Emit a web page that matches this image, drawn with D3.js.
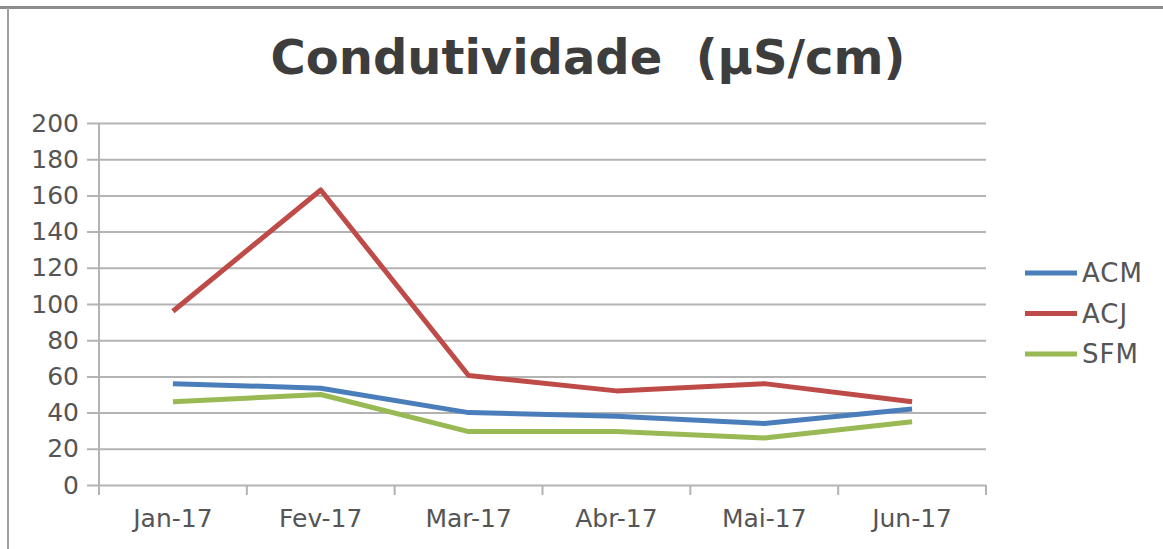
<!DOCTYPE html>
<html>
<head>
<meta charset="utf-8">
<script src="https://cdn.jsdelivr.net/npm/d3@7"></script>
<style>
  body { margin: 0; background: #fff; }
  svg { display: block; font-family: "DejaVu Sans", sans-serif; }
</style>
</head>
<body>
<svg id="chart" width="1163" height="549"></svg>
<script>
var months = ["Jan-17", "Fev-17", "Mar-17", "Abr-17", "Mai-17", "Jun-17"];
var seriesNames = ["ACM", "ACJ", "SFM"];
var acm = [56, 53.5, 40, 38, 34, 42];
var acj = [96, 163, 60.5, 52, 56, 46];
var sfm = [46, 50, 29.5, 29.5, 26, 35];
var yTicks = [0, 20, 40, 60, 80, 100, 120, 140, 160, 180, 200];
var colors = ["#4a7ebb", "#be4b48", "#98b954"];

var series = [acm, acj, sfm];
var textColor = "#555555";

var svg = d3.select("#chart");

// frame
svg.append("line").attr("x1", 0).attr("x2", 1163).attr("y1", 7.5).attr("y2", 7.5)
    .attr("stroke", "#8c8c8c").attr("stroke-width", 3);
svg.append("line").attr("x1", 8).attr("x2", 8).attr("y1", 8).attr("y2", 549)
    .attr("stroke", "#a0a0a0").attr("stroke-width", 2);

// title
svg.append("text")
    .attr("x", 588).attr("y", 74)
    .attr("text-anchor", "middle")
    .attr("font-size", 48).attr("font-weight", "bold")
    .attr("fill", "#3d3d3d")
    .style("white-space", "pre")
    .text("Condutividade  (µS/cm)");

var plotLeft = 99, plotRight = 986, plotTop = 123, plotBottom = 485;

var x = d3.scaleBand().domain(months).range([plotLeft, plotRight]).paddingInner(0).paddingOuter(0);
var y = d3.scaleLinear().domain([0, 200]).range([plotBottom, plotTop]);

// gridlines + y labels (axis placed at right edge, ticks run left)
var yAxis = svg.append("g")
    .attr("transform", "translate(" + plotRight + ",0)")
    .call(d3.axisLeft(y).tickValues(yTicks).tickSize(plotRight - 87).tickPadding(8));
yAxis.select(".domain").remove();
yAxis.selectAll(".tick line").attr("stroke", "#b3b3b3").attr("stroke-width", 2);
yAxis.selectAll(".tick text").attr("font-size", 25).attr("fill", textColor)
    .attr("font-family", "DejaVu Sans");

// y axis line
svg.append("line").attr("x1", plotLeft).attr("x2", plotLeft).attr("y1", plotTop).attr("y2", plotBottom + 10)
    .attr("stroke", "#b3b3b3").attr("stroke-width", 2);

// category boundary ticks
var bounds = months.map(function(m) { return x(m) + x.bandwidth(); });
svg.selectAll("line.cat").data(bounds).enter().append("line")
    .attr("class", "cat")
    .attr("x1", function(d) { return d; }).attr("x2", function(d) { return d; })
    .attr("y1", plotBottom).attr("y2", plotBottom + 10)
    .attr("stroke", "#b3b3b3").attr("stroke-width", 2);

// x labels
var xAxis = svg.append("g")
    .attr("transform", "translate(0," + plotBottom + ")")
    .call(d3.axisBottom(x).tickSize(0).tickPadding(24));
xAxis.select(".domain").remove();
xAxis.selectAll(".tick text").attr("font-size", 25).attr("fill", textColor)
    .attr("font-family", "DejaVu Sans");

// lines
var line = d3.line()
    .x(function(d, i) { return x(months[i]) + x.bandwidth() / 2; })
    .y(function(d) { return y(d); });

svg.selectAll("path.series").data(series).enter().append("path")
    .attr("class", "series")
    .attr("d", line)
    .attr("fill", "none")
    .attr("stroke", function(d, i) { return colors[i]; })
    .attr("stroke-width", 5)
    .attr("stroke-linejoin", "round");

// legend
var legend = svg.selectAll("g.legend").data(seriesNames).enter().append("g")
    .attr("class", "legend")
    .attr("transform", function(d, i) { return "translate(1025," + (273 + i * 40.5) + ")"; });
legend.append("line").attr("x1", 0).attr("x2", 52).attr("y1", 0).attr("y2", 0)
    .attr("stroke", function(d, i) { return colors[i]; }).attr("stroke-width", 5);
legend.append("text").attr("x", 57).attr("y", 0).attr("dy", "0.36em")
    .attr("font-size", 26).attr("fill", textColor).attr("letter-spacing", 1)
    .text(function(d) { return d; });
</script>
</body>
</html>
